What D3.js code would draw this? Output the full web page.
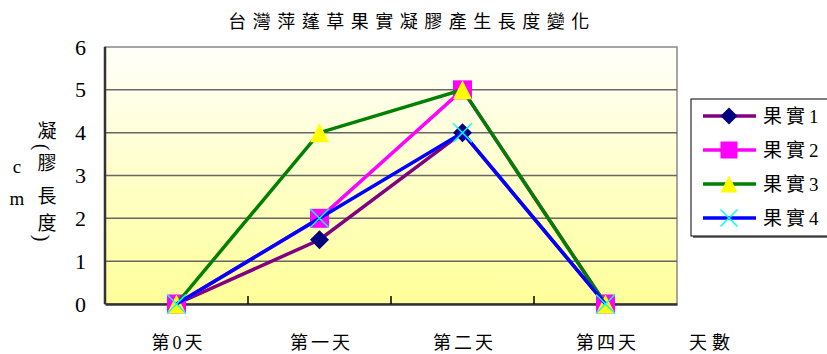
<!DOCTYPE html>
<html>
<head>
<meta charset="utf-8">
<script src="https://cdn.jsdelivr.net/npm/d3@7"></script>
<style>
  body { margin: 0; background: #fff; }
  text { font-family: "Liberation Serif", "Noto Sans CJK TC", serif; fill: #000; }
</style>
</head>
<body>
<svg id="chart" width="827" height="354"></svg>
<script>
// --- DATA ---
const categories = ["第0天", "第一天", "第二天", "第四天"];
const seriesNames = ["果實1", "果實2", "果實3", "果實4"];
const fruit1 = [0, 1.5, 4, 0];
const fruit2 = [0, 2, 5, 0];
const fruit3 = [0, 4, 5, 0];
const fruit4 = [0, 2, 4, 0];
const yTicks = [0, 1, 2, 3, 4, 5, 6];

const series = [
  { name: seriesNames[0], values: fruit1, line: "#800080", fill: "#000080", shape: "diamond" },
  { name: seriesNames[1], values: fruit2, line: "#FF00FF", fill: "#FF00FF", shape: "square" },
  { name: seriesNames[2], values: fruit3, line: "#008000", fill: "#FFFF00", shape: "triangle" },
  { name: seriesNames[3], values: fruit4, line: "#0000FF", fill: "#00FFFF", shape: "x" }
];

// --- SETUP ---
const svg = d3.select("#chart");
const plot = { left: 105, right: 677, top: 47, bottom: 304 };

const x = d3.scaleBand().domain(categories).range([plot.left, plot.right]);
const y = d3.scaleLinear().domain([0, 6]).range([plot.bottom, plot.top]);
const cx = c => x(c) + x.bandwidth() / 2;

// background gradient
const defs = svg.append("defs");
const grad = defs.append("linearGradient").attr("id", "bg").attr("x1", 0).attr("y1", 0).attr("x2", 0).attr("y2", 1);
grad.append("stop").attr("offset", "0%").attr("stop-color", "#FFFFFB");
grad.append("stop").attr("offset", "100%").attr("stop-color", "#FFFF99");

svg.append("rect")
  .attr("x", plot.left).attr("y", plot.top)
  .attr("width", plot.right - plot.left).attr("height", plot.bottom - plot.top)
  .attr("fill", "url(#bg)")
  .attr("stroke", "#888").attr("stroke-width", 1.5);

// gridlines
svg.append("g").selectAll("line")
  .data(yTicks.filter(t => t > 0 && t < 6)).join("line")
  .attr("x1", plot.left).attr("x2", plot.right)
  .attr("y1", d => y(d)).attr("y2", d => y(d))
  .attr("stroke", "#666").attr("stroke-width", 1.5);

// axes
const xAxis = svg.append("g").attr("transform", `translate(0,${plot.bottom})`)
  .call(d3.axisBottom(x).tickSize(0).tickFormat(""));
xAxis.select(".domain").attr("stroke", "#333").attr("stroke-width", 2.5);

// x ticks at band boundaries, pointing up
svg.append("g").selectAll("line")
  .data(categories.slice(1)).join("line")
  .attr("x1", d => x(d)).attr("x2", d => x(d))
  .attr("y1", plot.bottom).attr("y2", plot.bottom - 8)
  .attr("stroke", "#000").attr("stroke-width", 1.5);

svg.append("line")
  .attr("x1", plot.left).attr("x2", plot.left)
  .attr("y1", plot.top).attr("y2", plot.bottom)
  .attr("stroke", "#333").attr("stroke-width", 2.5);

// y tick labels
svg.append("g").selectAll("text")
  .data(yTicks).join("text")
  .attr("x", 86).attr("y", d => y(d))
  .attr("text-anchor", "end").attr("dominant-baseline", "central")
  .style("font-size", "22px")
  .text(d => d);

// x tick labels
svg.append("g").selectAll("text")
  .data(categories).join("text")
  .attr("x", d => cx(d) + 2).attr("y", 343)
  .attr("text-anchor", "middle").attr("dominant-baseline", "central")
  .style("font-size", "18px").style("letter-spacing", "3px")
  .text(d => d);

svg.append("text")
  .attr("x", 712).attr("y", 343)
  .attr("text-anchor", "middle").attr("dominant-baseline", "central")
  .style("font-size", "18px").style("letter-spacing", "5px")
  .text("天數");

// title
svg.append("text")
  .attr("x", 412).attr("y", 22)
  .attr("text-anchor", "middle").attr("dominant-baseline", "central")
  .style("font-size", "18px").style("letter-spacing", "6.5px")
  .text("台灣萍蓬草果實凝膠產生長度變化");

// y axis title, stacked glyphs
const yTitleRight = [["凝", 131], ["膠", 163], ["長", 196], ["度", 223]];
const yTitleParens = [["(", 147], [")", 238]];
const yTitleLeft = [["c", 166], ["m", 198]];
svg.append("g").selectAll("text")
  .data(yTitleRight).join("text")
  .attr("x", 47).attr("y", d => d[1])
  .attr("text-anchor", "middle").attr("dominant-baseline", "central")
  .style("font-size", "19px")
  .text(d => d[0]);
svg.append("g").selectAll("text")
  .data(yTitleParens).join("text")
  .attr("transform", d => `translate(42,${d[1]}) rotate(90)`)
  .attr("text-anchor", "middle").attr("dominant-baseline", "central")
  .style("font-size", "20px")
  .text(d => d[0]);
svg.append("g").selectAll("text")
  .data(yTitleLeft).join("text")
  .attr("x", 17).attr("y", d => d[1])
  .attr("text-anchor", "middle").attr("dominant-baseline", "central")
  .style("font-size", "19px")
  .text(d => d[0]);

// --- MARKERS ---
function drawMarker(sel, s, size) {
  const h = size / 2;
  if (s.shape === "diamond") {
    sel.append("path").attr("d", `M0,${-h}L${h},0L0,${h}L${-h},0Z`).attr("fill", s.fill);
  } else if (s.shape === "square") {
    sel.append("rect").attr("x", -h).attr("y", -h).attr("width", size).attr("height", size).attr("fill", s.fill);
  } else if (s.shape === "triangle") {
    sel.append("path").attr("d", `M0,${-h}L${h},${h}L${-h},${h}Z`).attr("fill", s.fill);
  } else {
    sel.append("path").attr("d", `M${-h},${-h}L${h},${h}M${h},${-h}L${-h},${h}`)
      .attr("stroke", s.fill).attr("stroke-width", 1.5).attr("fill", "none");
  }
}

const line = d3.line().x((d, i) => cx(categories[i])).y(d => y(d));

series.forEach(s => {
  const gS = svg.append("g");
  gS.append("path").datum(s.values)
    .attr("d", line).attr("fill", "none")
    .attr("stroke", s.line).attr("stroke-width", 3.5);
  s.values.forEach((v, i) => {
    const m = gS.append("g").attr("transform", `translate(${cx(categories[i])},${y(v)})`);
    drawMarker(m, s, 19);
  });
});

// --- LEGEND ---
const legend = svg.append("g");
legend.append("rect").attr("x", 693).attr("y", 101).attr("width", 140).attr("height", 137).attr("fill", "#777");
legend.append("rect").attr("x", 691).attr("y", 99).attr("width", 140).attr("height", 137)
  .attr("fill", "#fff").attr("stroke", "#000").attr("stroke-width", 1);

const legendY = d3.scalePoint().domain(seriesNames).range([116, 218]);
series.forEach(s => {
  const ly = legendY(s.name);
  legend.append("line").attr("x1", 703).attr("x2", 756).attr("y1", ly).attr("y2", ly)
    .attr("stroke", s.line).attr("stroke-width", 3.5);
  const m = legend.append("g").attr("transform", `translate(729,${ly})`);
  drawMarker(m, s, 17);
  legend.append("text").attr("x", 763).attr("y", ly)
    .attr("dominant-baseline", "central")
    .style("font-size", "19px").style("letter-spacing", "4px")
    .text(s.name);
});
</script>
</body>
</html>
